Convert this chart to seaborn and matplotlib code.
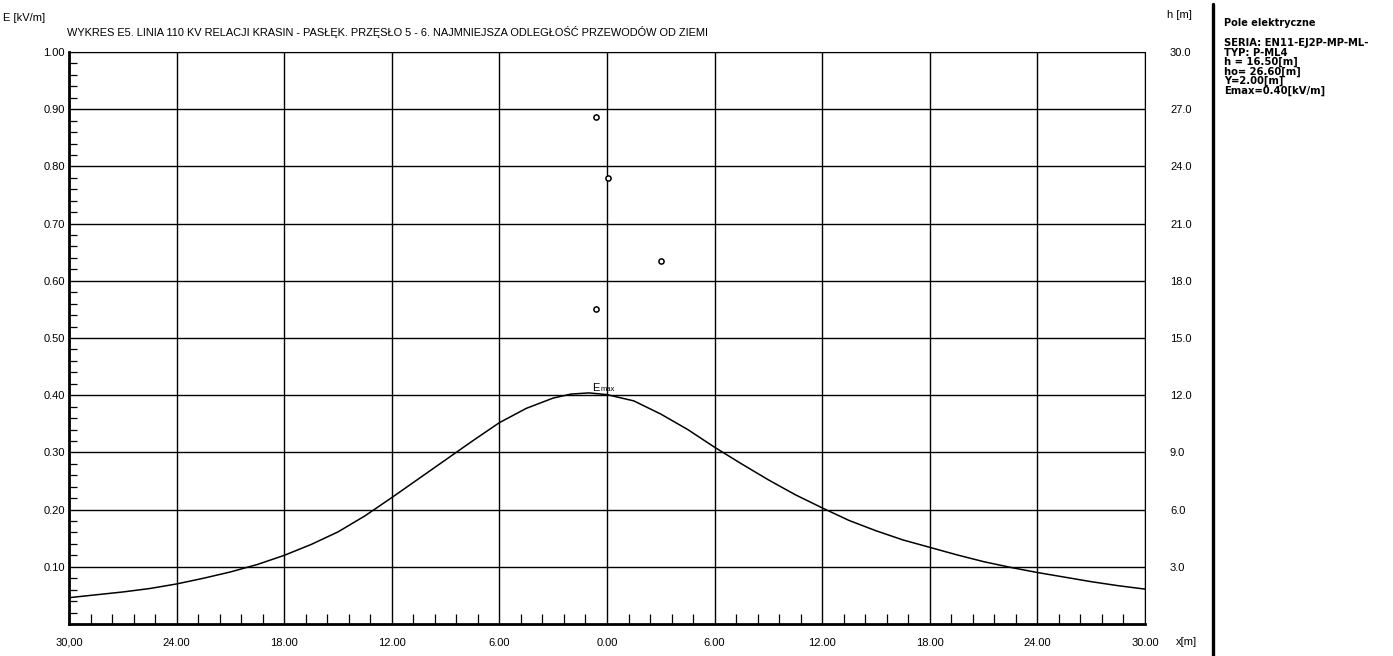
import matplotlib
matplotlib.use("Agg")
import matplotlib.pyplot as plt
from matplotlib.ticker import MultipleLocator, FixedLocator
import seaborn as sns
import pandas as pd

# Electric field strength 2 m above ground across the span, distance from line axis [m]
x_m = [-30, -28.5, -27, -25.5, -24, -22.5, -21, -19.5, -18, -16.5,
       -15, -13.5, -12, -10.5, -9, -7.5, -6, -4.5, -3, -2,
       -1, 0, 1.5, 3, 4.5, 6, 7.5, 9, 10.5, 12,
       13.5, 15, 16.5, 18, 19.5, 21, 22.5, 24, 25.5, 27,
       28.5, 30]
e_kvm = [0.046, 0.051, 0.056, 0.062, 0.070, 0.080, 0.091, 0.104, 0.120, 0.139,
         0.161, 0.189, 0.221, 0.254, 0.287, 0.320, 0.352, 0.377, 0.395, 0.402,
         0.404, 0.401, 0.390, 0.367, 0.340, 0.309, 0.280, 0.252, 0.226, 0.203,
         0.181, 0.163, 0.147, 0.134, 0.121, 0.109, 0.099, 0.090, 0.082, 0.074,
         0.067, 0.061]

# Conductor positions (horizontal offset [m], height above ground [m])
cond_x = [-0.6, 0.05, 3.0, -0.6]
cond_h = [26.6, 23.4, 19.05, 16.5]

# Tick values and labels
e_ticks = [0.1, 0.2, 0.3, 0.4, 0.5, 0.6, 0.7, 0.8, 0.9, 1.0]
e_labels = ["0.10", "0.20", "0.30", "0.40", "0.50", "0.60", "0.70", "0.80", "0.90", "1.00"]
x_ticks = [-30, -24, -18, -12, -6, 0, 6, 12, 18, 24, 30]
x_labels = ["30,00", "24.00", "18.00", "12.00", "6.00", "0.00", "6.00", "12.00", "18.00", "24.00", "30.00"]
h_ticks = [3, 6, 9, 12, 15, 18, 21, 24, 27, 30]
h_labels = ["3.0", "6.0", "9.0", "12.0", "15.0", "18.0", "21.0", "24.0", "27.0", "30.0"]

title = "WYKRES E5. LINIA 110 KV RELACJI KRASIN - PASŁĘK. PRZĘSŁO 5 - 6. NAJMNIEJSZA ODLEGŁOŚĆ PRZEWODÓW OD ZIEMI"
info_head = "Pole elektryczne"
info_lines = ["SERIA: EN11-EJ2P-MP-ML-", "TYP: P-ML4", "h = 16.50[m]",
              "ho= 26.60[m]", "Y=2.00[m]", "Emax=0.40[kV/m]"]

sns.set_style("white")
fam = ["Liberation Sans", "DejaVu Sans"]
plt.rcParams["font.family"] = fam
for key in ("text.color", "axes.labelcolor", "xtick.color", "ytick.color"):
    plt.rcParams[key] = "black"

W, H = 1393, 656
fig = plt.figure(figsize=(W / 100, H / 100), dpi=100)
fig.patch.set_facecolor("white")

L, R, T, B = 69, 1145, 52, 624
ax = fig.add_axes([L / W, 1 - B / H, (R - L) / W, (B - T) / H])

df = pd.DataFrame({"x": x_m, "E": e_kvm})
sns.lineplot(data=df, x="x", y="E", ax=ax, color="black", lw=1.1)

ax.set_xlim(-30, 30)
ax.set_ylim(0, 1.0)
ax.set_xlabel("")
ax.set_ylabel("")

ax.yaxis.set_major_locator(FixedLocator(e_ticks))
ax.set_yticklabels(e_labels)
ax.xaxis.set_major_locator(FixedLocator(x_ticks))
ax.set_xticklabels(x_labels)
ax.xaxis.set_minor_locator(MultipleLocator(1.2))
ax.yaxis.set_minor_locator(MultipleLocator(0.02))

ax.grid(True, which="major", color="black", lw=1.0)
ax.tick_params(axis="both", which="major", length=0, labelsize=8)
ax.tick_params(axis="y", which="major", pad=3)
ax.tick_params(axis="x", which="major", pad=10)
ax.tick_params(axis="y", which="minor", direction="in", length=6, width=0.9, left=True)
ax.tick_params(axis="x", which="minor", direction="in", length=7, width=0.9, bottom=True)

for side, lw in (("left", 2.0), ("bottom", 2.0), ("top", 0.8), ("right", 0.8)):
    ax.spines[side].set_visible(True)
    ax.spines[side].set_color("black")
    ax.spines[side].set_linewidth(lw)

# Peak marker label
ax.text(-0.85, 0.404, "E", fontsize=8, ha="left", va="bottom")
ax.text(-0.35, 0.404, "max", fontsize=5.5, ha="left", va="bottom")

# Height axis with the conductors
ax2 = ax.twinx()
cdf = pd.DataFrame({"x": cond_x, "h": cond_h})
sns.scatterplot(data=cdf, x="x", y="h", ax=ax2, marker="o", s=14,
                facecolor="white", edgecolor="black", linewidth=1.1, zorder=5)
ax2.set_ylim(0, 30)
ax2.set_xlim(-30, 30)
ax2.set_ylabel("")
ax2.yaxis.set_major_locator(FixedLocator(h_ticks))
ax2.set_yticklabels(h_labels)
ax2.tick_params(axis="y", which="both", length=0, pad=18, labelsize=8)
for s in ax2.spines.values():
    s.set_visible(False)

# Headers and axis units
fig.text(3 / W, 1 - 18 / H, "E [kV/m]", fontsize=8, va="center", ha="left")
fig.text(67 / W, 1 - 32 / H, title, fontsize=7.9, va="center", ha="left")
fig.text(1167 / W, 1 - 15 / H, "h [m]", fontsize=8, va="center", ha="left")
fig.text(1176 / W, 1 - 642 / H, "x[m]", fontsize=8, va="center", ha="left")

# Info panel
panel_font = ["DejaVu Sans"]
fig.add_artist(plt.Line2D([1213 / W, 1213 / W], [0, 1 - 4 / H], color="black", lw=2.4))
fig.text(1224 / W, 1 - 23 / H, info_head, fontsize=7.0, fontweight="bold",
         va="center", ha="left", family=panel_font)
for i, line in enumerate(info_lines):
    fig.text(1224 / W, 1 - (43 + i * 9.5) / H, line, fontsize=7.2, fontweight="bold",
             va="center", ha="left", family=panel_font)

fig.savefig("out.png", dpi=100, facecolor="white")
